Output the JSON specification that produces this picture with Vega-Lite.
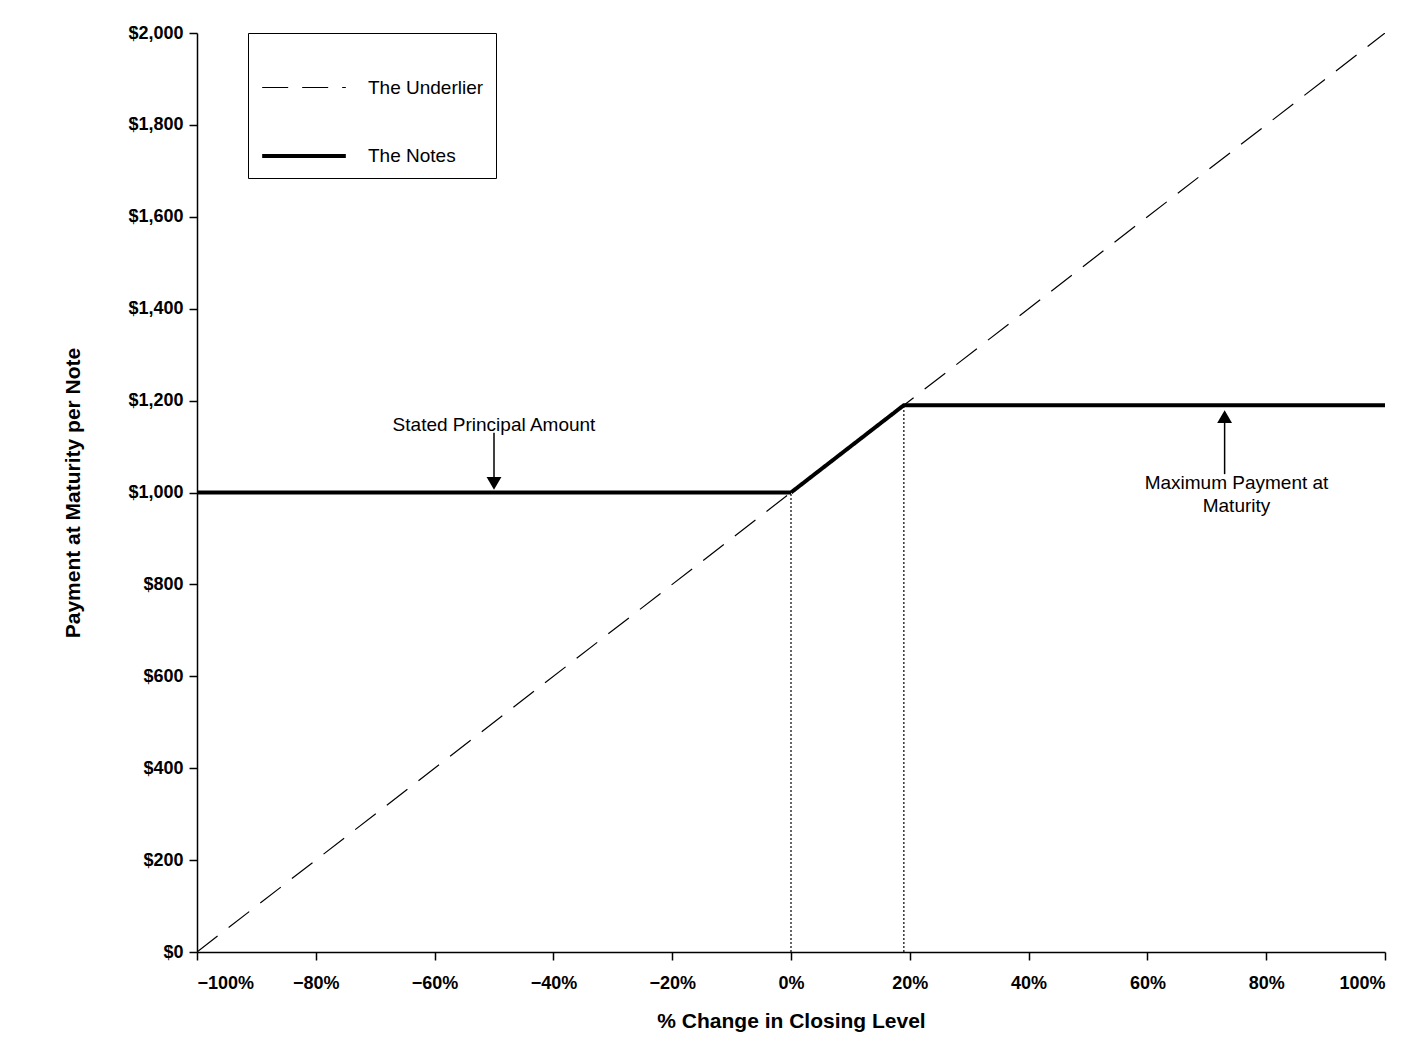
{
"$schema":"https://vega.github.io/schema/vega-lite/v6.json",
"width":1188,"height":919,
"autosize":{"type":"none"},
"padding":{"left":197,"top":33,"right":25,"bottom":110},
"background":"white",
"config":{"font":"Liberation Sans","view":{"stroke":null},
 "axis":{"labelFont":"Liberation Sans","labelFontWeight":"bold","labelFontSize":18,"titleFont":"Liberation Sans","titleFontWeight":"bold","titleFontSize":21,"domainColor":"black","tickColor":"black","labelColor":"black","titleColor":"black","grid":false,"tickSize":8,"domainWidth":1.5,"tickWidth":1.5}},
"layer":[
{"data":{"values":[
 {"s":"The Underlier","x":-1,"y":0},{"s":"The Underlier","x":1,"y":2000},
 {"s":"The Notes","x":-1,"y":1000},{"s":"The Notes","x":0,"y":1000},{"s":"The Notes","x":0.19,"y":1190},{"s":"The Notes","x":1,"y":1190}]},
 "mark":{"type":"line","clip":true},
 "encoding":{
  "x":{"field":"x","type":"quantitative","scale":{"domain":[-1,1],"nice":false},"axis":{"format":".0%","values":[-1,-0.8,-0.6,-0.4,-0.2,0,0.2,0.4,0.6,0.8,1],"labelPadding":14,"title":"% Change in Closing Level","titlePadding":18}},
  "y":{"field":"y","type":"quantitative","scale":{"domain":[0,2000],"nice":false},"axis":{"format":"$,.0f","values":[0,200,400,600,800,1000,1200,1400,1600,1800,2000],"labelPadding":6,"title":"Payment at Maturity per Note","titlePadding":44}},
  "color":{"field":"s","type":"nominal","scale":{"domain":["The Underlier","The Notes"],"range":["black","black"]},"legend":{"title":null,"orient":"none","legendX":51,"legendY":0,"symbolType":"stroke","symbolSize":7000,"labelFontSize":19,"labelFont":"Liberation Sans","labelColor":"black","strokeColor":"black","padding":12,"rowPadding":14,"labelOffset":20,"symbolStrokeColor":"black"}},
  "strokeDash":{"field":"s","type":"nominal","scale":{"domain":["The Underlier","The Notes"],"range":[[26,14],[1,0]]}},
  "strokeWidth":{"field":"s","type":"nominal","scale":{"domain":["The Underlier","The Notes"],"range":[1.2,4]}}
 }},
{"data":{"values":[{"x":0,"y0":0,"y":1000},{"x":0.19,"y0":0,"y":1190}]},
 "mark":{"type":"rule","strokeDash":[2,2],"color":"black","strokeWidth":1.2},
 "encoding":{"x":{"field":"x","type":"quantitative"},"y":{"field":"y0","type":"quantitative"},"y2":{"field":"y"}}},
{"data":{"values":[{"x":-0.5,"y":1130,"y2":1020},{"x":0.73,"y":1040,"y2":1165}]},
 "mark":{"type":"rule","color":"black","strokeWidth":1.5},
 "encoding":{"x":{"field":"x","type":"quantitative"},"y":{"field":"y","type":"quantitative"},"y2":{"field":"y2"}}},
{"data":{"values":[{"x":-0.5,"y":1020}]},
 "mark":{"type":"point","filled":true,"color":"black","size":220,"opacity":1,"shape":"triangle-down"},
 "encoding":{"x":{"field":"x","type":"quantitative"},"y":{"field":"y","type":"quantitative"}}},
{"data":{"values":[{"x":0.73,"y":1165}]},
 "mark":{"type":"point","filled":true,"color":"black","size":220,"opacity":1,"shape":"triangle-up"},
 "encoding":{"x":{"field":"x","type":"quantitative"},"y":{"field":"y","type":"quantitative"}}},
{"data":{"values":[{"x":-0.5,"y":1125,"t":["Stated Principal Amount"]},{"x":0.75,"y":1000,"t":["Maximum Payment at","Maturity"]}]},
 "mark":{"type":"text","font":"Liberation Sans","fontSize":19,"color":"black","baseline":"bottom","lineHeight":23},
 "encoding":{"x":{"field":"x","type":"quantitative"},"y":{"field":"y","type":"quantitative"},"text":{"field":"t"}}}
]}
